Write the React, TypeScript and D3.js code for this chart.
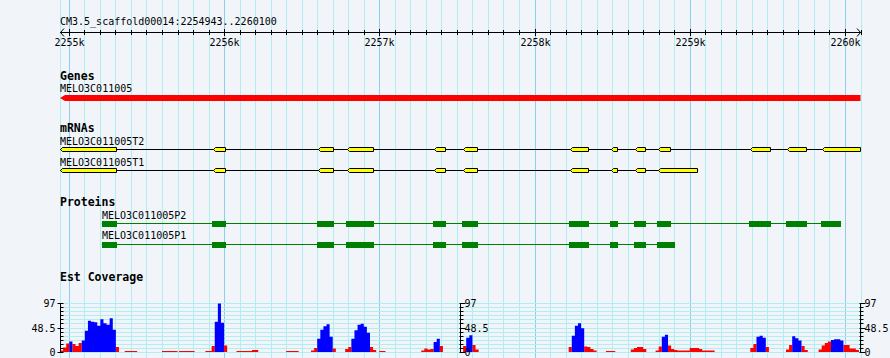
import React from "react";
import * as d3 from "d3";

// ---- data ----
const viewStart = 2254943;
const viewEnd = 2260100;
const titleText = "CM3.5_scaffold00014:2254943..2260100";

const geneName = "MELO3C011005";
const geneSpan = [2254943, 2260100];

const mrnaNames = ["MELO3C011005T2", "MELO3C011005T1"];
const mrnaT2Exons = [
  [2254943, 2255310], [2255929, 2256013], [2256605, 2256708], [2256792, 2256966],
  [2257353, 2257430], [2257540, 2257636], [2258229, 2258351], [2258493, 2258538],
  [2258648, 2258719], [2258796, 2258880], [2259389, 2259524], [2259627, 2259756],
  [2259853, 2260100],
];
const mrnaT1Exons = [
  [2254943, 2255310], [2255929, 2256013], [2256605, 2256708], [2256792, 2256966],
  [2257353, 2257430], [2257540, 2257636], [2258229, 2258351], [2258493, 2258538],
  [2258648, 2258719], [2258796, 2259054],
];

const proteinNames = ["MELO3C011005P2", "MELO3C011005P1"];
const proteinP2Cds = [
  [2255212, 2255310], [2255923, 2256013], [2256599, 2256708], [2256786, 2256966],
  [2257347, 2257430], [2257534, 2257636], [2258223, 2258351], [2258487, 2258538],
  [2258642, 2258719], [2258790, 2258880], [2259383, 2259524], [2259621, 2259756],
  [2259847, 2259975],
];
const proteinP1Cds = [
  [2255212, 2255310], [2255923, 2256013], [2256599, 2256708], [2256786, 2256966],
  [2257347, 2257430], [2257534, 2257636], [2258223, 2258351], [2258487, 2258538],
  [2258642, 2258719], [2258790, 2258906],
];

const estMax = 97;
const estAxisLabels = ["97", "48.5", "0"];
const estBinSize = 20;
const estRegionStarts = [
  2254943, 2255360, 2255600, 2255710, 2255880, 2256080, 2256400, 2256560, 2256780,
  2257000, 2257270, 2257540, 2258220, 2258460, 2258620, 2258780, 2259390, 2259620, 2259830,
];
const estValues = [
  [3, 9, 17, 21, 16, 12, 18, 23, 42, 62, 60, 59, 52, 65, 57, 54, 67, 44, 10],
  [2, 2, 2, 2],
  [2, 2, 2, 2, 2],
  [2, 2, 2, 2, 2],
  [2, 2, 12, 60, 96, 58, 13],
  [2, 2, 2, 2, 2, 4, 4],
  [2, 2, 2, 2],
  [3, 8, 26, 44, 51, 55, 30, 7],
  [6, 10, 26, 43, 54, 56, 50, 38, 10, 4],
  [2, 2],
  [3, 7, 5, 6, 20, 26, 12],
  [12, 28, 33, 14, 5],
  [10, 32, 52, 57, 47, 11, 10, 6, 3],
  [2, 2, 2],
  [5, 8, 10, 10, 6],
  [3, 11, 30, 34, 13, 6, 4, 3, 3, 3, 3, 8, 8, 8, 6, 3, 3, 3, 3],
  [8, 16, 30, 32, 28, 10],
  [5, 14, 31, 27, 23, 12, 4],
  [5, 13, 18, 21, 24, 25, 25, 23, 14, 14, 7, 7, 4],
];
// r = red (partial), b = blue (full) per bin
const estColorCodes = [
  "rrrbrrrbbbbbbbbbbbr",
  "rrrr",
  "rrrrr",
  "rrrrr",
  "rrrbbbr",
  "rrrrrrr",
  "rrrr",
  "rrbbbbbr",
  "rrbbbbbbrr",
  "rr",
  "rrrrbbr",
  "rbbrr",
  "rbbbbrrrr",
  "rrr",
  "rrrrr",
  "rrbbrrrrrrrrrrrrrrr",
  "rrbbbr",
  "rrbbbrr",
  "rrrrbbbbrrrrr",
];

// ---- styles ----
const W = 890;
const H = 358;
const BG = "#f1f5fa";
const GRID_MINOR = "#b0eef2";
const GRID_MAJOR = "#8ccfea";
const MONO = "'DejaVu Sans Mono', monospace";

export default function App() {
  const x = d3.scaleLinear().domain([viewStart, viewEnd]).range([60, 860.5]);
  const y = d3.scaleLinear().domain([0, estMax]).range([352, 303]);

  const gridTicks = d3.range(2255000, viewEnd + 1, 100);
  const majorTicks = gridTicks.filter((t) => t % 1000 === 0);
  const covTicks = d3.range(0, 13).map((i) => (i * estMax) / 12);

  const axisY = 32.5;

  const exonPath = (s: number, e: number, yc: number) => {
    const x0 = Math.round(x(s)) + 0.5;
    const x1 = Math.round(x(e)) - 0.5;
    const h = 2;
    return `M${x0},${yc} L${x0 + 2},${yc - h} L${x1},${yc - h} L${x1},${yc + h} L${x0 + 2},${yc + h} Z`;
  };

  const area = d3
    .area<[number, number]>()
    .x((d) => x(d[0]))
    .y0(352)
    .y1((d) => y(d[1]))
    .curve(d3.curveStepAfter);

  const covPaths: { d: string; color: string }[] = [];
  estRegionStarts.forEach((start, ri) => {
    const vals = estValues[ri];
    const codes = estColorCodes[ri];
    (["r", "b"] as const).forEach((c) => {
      const pts: [number, number][] = vals.map((v, i) => [start + i * estBinSize, codes[i] === c ? v : 0]);
      pts.push([start + vals.length * estBinSize, 0]);
      covPaths.push({ d: area(pts) || "", color: c === "r" ? "#ff0000" : "#0000ff" });
    });
  });

  const mrnaRows = [
    { name: mrnaNames[0], exons: mrnaT2Exons, labelY: 145, lineY: 149.5 },
    { name: mrnaNames[1], exons: mrnaT1Exons, labelY: 165.5, lineY: 170.5 },
  ];
  const protRows = [
    { name: proteinNames[0], cds: proteinP2Cds, labelY: 218.5, lineY: 223.5, boxY: 221 },
    { name: proteinNames[1], cds: proteinP1Cds, labelY: 239, lineY: 244.5, boxY: 242 },
  ];

  const covAxes = [
    { x: 60.5, side: "left" },
    { x: 460.5, side: "right" },
    { x: 860.5, side: "right" },
  ];

  return (
    <svg
      width={W}
      height={H}
      style={{ position: "absolute", left: 0, top: 0, display: "block" }}
      fontFamily={MONO}
    >
      <rect width={W} height={H} fill={BG} />
      {/* vertical grid */}
      <line x1={60.5} x2={60.5} y1={0} y2={H} stroke={GRID_MINOR} />
      {gridTicks.map((t) => (
        <line
          key={t}
          x1={Math.round(x(t)) + 0.5}
          x2={Math.round(x(t)) + 0.5}
          y1={0}
          y2={H}
          stroke={t % 1000 === 0 ? GRID_MAJOR : GRID_MINOR}
        />
      ))}
      {/* coverage horizontal grid */}
      {covTicks.map((v, i) => (
        <line key={i} x1={60} x2={861} y1={Math.round(y(v)) + 0.5} y2={Math.round(y(v)) + 0.5} stroke={GRID_MINOR} />
      ))}

      {/* ruler */}
      <text x={60} y={25} fontSize={10}>{titleText}</text>
      <line x1={60} x2={861} y1={axisY} y2={axisY} stroke="#000" />
      <path d={`M64,${axisY - 4} L60.5,${axisY} L64,${axisY + 4}`} fill="none" stroke="#000" />
      <path d={`M857,${axisY - 4} L860.5,${axisY} L857,${axisY + 4}`} fill="none" stroke="#000" />
      {gridTicks.map((t) => {
        const xx = Math.round(x(t)) + 0.5;
        const major = t % 1000 === 0;
        return (
          <line key={t} x1={xx} x2={xx} y1={major ? 29 : 30} y2={major ? 36 : 35} stroke="#000" />
        );
      })}
      {majorTicks.map((t) => (
        <text key={t} x={Math.round(x(t)) + 0.5} y={45.5} fontSize={10} textAnchor="middle">
          {`${t / 1000}k`}
        </text>
      ))}

      {/* Genes */}
      <text x={60} y={80} fontSize={11.5} fontWeight="bold">Genes</text>
      <text x={60} y={92} fontSize={10}>{geneName}</text>
      <path
        d={`M${x(geneSpan[0])},98 L${x(geneSpan[0]) + 5},95 L${x(geneSpan[1])},95 L${x(geneSpan[1])},101 L${x(geneSpan[0]) + 5},101 Z`}
        fill="#ff0000"
      />

      {/* mRNAs */}
      <text x={60} y={132} fontSize={11.5} fontWeight="bold">mRNAs</text>
      {mrnaRows.map((r) => {
        const s = r.exons[0][0];
        const e = r.exons[r.exons.length - 1][1];
        return (
          <g key={r.name}>
            <text x={60} y={r.labelY} fontSize={10}>{r.name}</text>
            <line x1={x(s)} x2={x(e)} y1={r.lineY} y2={r.lineY} stroke="#000" />
            {r.exons.map((ex, i) => (
              <path key={i} d={exonPath(ex[0], ex[1], r.lineY)} fill="#ffff00" stroke="#000" strokeWidth={1} />
            ))}
          </g>
        );
      })}

      {/* Proteins */}
      <text x={60} y={205.5} fontSize={11.5} fontWeight="bold">Proteins</text>
      {protRows.map((r) => {
        const s = r.cds[0][0];
        const e = r.cds[r.cds.length - 1][1];
        return (
          <g key={r.name}>
            <text x={Math.round(x(s))} y={r.labelY} fontSize={10}>{r.name}</text>
            <line x1={x(s)} x2={x(e)} y1={r.lineY} y2={r.lineY} stroke="#008000" />
            {r.cds.map((c, i) => (
              <rect
                key={i}
                x={Math.round(x(c[0]))}
                y={r.boxY}
                width={Math.round(x(c[1])) - Math.round(x(c[0]))}
                height={6}
                fill="#008000"
              />
            ))}
          </g>
        );
      })}

      {/* Est Coverage */}
      <text x={60} y={280.5} fontSize={11.5} fontWeight="bold">Est Coverage</text>
      {covPaths.map((p, i) => (
        <path key={i} d={p.d} fill={p.color} />
      ))}
      {covAxes.map((a, ai) => (
        <g key={ai}>
          <line x1={a.x} x2={a.x} y1={303} y2={352.5} stroke="#000" />
          {covTicks.map((v, i) => {
            const yy = Math.round(y(v)) + 0.5;
            const major = i % 6 === 0;
            return (
              <line
                key={i}
                x1={a.side === "left" ? (major ? a.x - 3 : a.x) : a.x - 1}
                x2={a.side === "left" ? a.x + 3 : a.x + (major ? 5 : 3)}
                y1={yy}
                y2={yy}
                stroke="#000"
              />
            );
          })}
          {estAxisLabels.map((lab, i) => {
            const v = i === 0 ? estMax : i === 1 ? estMax / 2 : 0;
            return (
              <text
                key={lab}
                x={a.side === "left" ? a.x - 5 : a.x + 4}
                y={Math.round(y(v)) + 4}
                fontSize={10}
                textAnchor={a.side === "left" ? "end" : "start"}
              >
                {lab}
              </text>
            );
          })}
        </g>
      ))}
    </svg>
  );
}
